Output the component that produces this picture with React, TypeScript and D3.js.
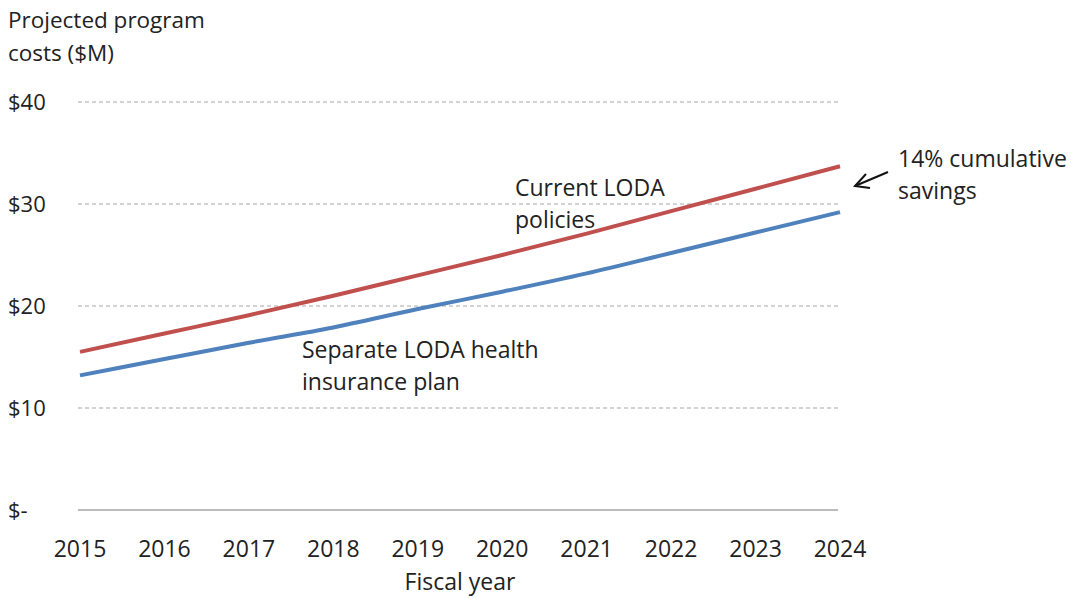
import React from "react";
import * as d3 from "d3";

const years = [2015, 2016, 2017, 2018, 2019, 2020, 2021, 2022, 2023, 2024];
const currentPolicies = [15.5, 17.3, 19.1, 21.0, 23.0, 25.0, 27.1, 29.3, 31.5, 33.7];
const separatePlan = [13.2, 14.8, 16.4, 17.9, 19.7, 21.4, 23.2, 25.2, 27.2, 29.2];
const yTicks = [0, 10, 20, 30, 40];
const yTickLabels = ["$-", "$10", "$20", "$30", "$40"];

const W = 1071;
const H = 598;
const FONT = "'Open Sans', 'Noto Sans', sans-serif";

export default function App() {
  const x = d3.scaleLinear().domain([2015, 2024]).range([80, 840]);
  const y = d3.scaleLinear().domain([0, 40]).range([510, 102]);
  const line = d3
    .line<number>()
    .x((_, i) => x(years[i]))
    .y((d) => y(d))
    .curve(d3.curveMonotoneX);

  return (
    <svg
      width={W}
      height={H}
      style={{ position: "absolute", left: 0, top: 0, background: "#fff" }}
    >
      <text x={8} y={28} fontFamily={FONT} fontSize={22.5} fill="#222">
        Projected program
      </text>
      <text x={8} y={61} fontFamily={FONT} fontSize={22.5} fill="#222">
        costs ($M)
      </text>
      {yTicks.map((t, i) => (
        <g key={t}>
          <line
            x1={78}
            x2={838}
            y1={y(t)}
            y2={y(t)}
            stroke="#a6a6a6"
            strokeWidth={t === 0 ? 1.5 : 1}
            strokeDasharray={t === 0 ? undefined : "4 3"}
          />
          <text
            x={8}
            y={y(t)}
            dy="0.35em"
            fontFamily={FONT}
            fontSize={22}
            fill="#222"
          >
            {yTickLabels[i]}
          </text>
        </g>
      ))}
      {years.map((yr) => (
        <text
          key={yr}
          x={x(yr)}
          y={557}
          textAnchor="middle"
          fontFamily={FONT}
          fontSize={23}
          fill="#222"
        >
          {yr}
        </text>
      ))}
      <text
        x={460}
        y={590}
        textAnchor="middle"
        fontFamily={FONT}
        fontSize={23}
        fill="#222"
      >
        Fiscal year
      </text>
      <path
        d={line(currentPolicies) || ""}
        fill="none"
        stroke="#c0504d"
        strokeWidth={4}
      />
      <path
        d={line(separatePlan) || ""}
        fill="none"
        stroke="#4f81bd"
        strokeWidth={4}
      />
      <text x={515} y={196} fontFamily={FONT} fontSize={23} fill="#222">
        Current LODA
      </text>
      <text x={515} y={228} fontFamily={FONT} fontSize={23} fill="#222">
        policies
      </text>
      <text x={302} y={358} fontFamily={FONT} fontSize={23} fill="#222">
        Separate LODA health
      </text>
      <text x={302} y={390} fontFamily={FONT} fontSize={23} fill="#222">
        insurance plan
      </text>
      <text x={898} y={167} fontFamily={FONT} fontSize={23} fill="#222">
        14% cumulative
      </text>
      <text x={898} y={199} fontFamily={FONT} fontSize={23} fill="#222">
        savings
      </text>
      <line x1={888} y1={172} x2={855} y2={186} stroke="#111" strokeWidth={2} />
      <polyline
        points="866,174 855,186 870,188"
        fill="none"
        stroke="#111"
        strokeWidth={2}
      />
    </svg>
  );
}
